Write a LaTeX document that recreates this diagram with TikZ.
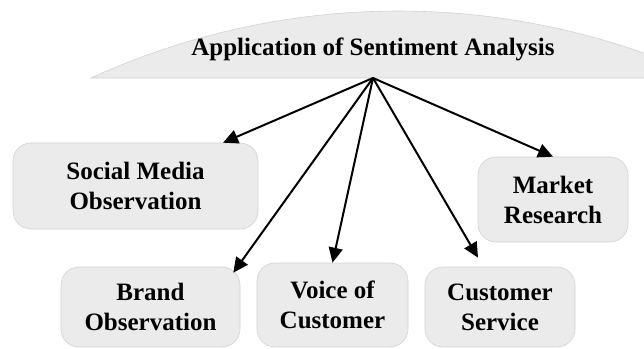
\documentclass[tikz,border=0pt]{standalone}
\usepackage{fontspec}
\setmainfont{Liberation Serif}
\usetikzlibrary{arrows.meta}
\definecolor{boxfill}{HTML}{EBEBEB}
\definecolor{boxline}{HTML}{D2D2D2}
\begin{document}
\begin{tikzpicture}[x=1pt,y=1pt,
  labelfont/.style={font=\fontsize{25}{30}\selectfont\bfseries},
  appbox/.style={draw=boxline, fill=boxfill, line width=0.6pt, rounded corners=18pt,
    inner sep=0pt, align=center, labelfont},
  dome/.style={draw=boxline, fill=boxfill, line width=0.6pt},
  conn/.style={draw=black, line width=2pt, -{Triangle[length=15pt,width=14pt]}}
]
\useasboundingbox (0,0) rectangle (644,348);
\begin{scope}
  \clip (0,0) rectangle (644,348);
  \path[dome] (91,270) arc[start angle=114.6, end angle=65.4, radius=738] -- cycle;
\end{scope}
\node[labelfont, anchor=base] (title) at (373,292) {Application of Sentiment Analysis};
\coordinate (apex) at (373,270);

\node[appbox, minimum width=245pt, minimum height=86pt] (social) at (135.5,162) {Social Media\\Observation};
\node[appbox, minimum width=150pt, minimum height=85pt] (market) at (553,148.5) {Market\\Research};
\node[appbox, minimum width=179pt, minimum height=80pt] (brand) at (150.5,41) {Brand\\Observation};
\node[appbox, minimum width=151pt, minimum height=84pt] (voice) at (332.5,43) {Voice of\\Customer};
\node[appbox, minimum width=150pt, minimum height=80pt] (service) at (500,41) {Customer\\Service};

\draw[conn] (apex) -- ([xshift=87.5pt]social.north);
\draw[conn] (apex) -- (market.north);
\draw[conn] (apex) -- ([xshift=-7pt,yshift=-6pt]brand.north east);
\draw[conn] (apex) -- (voice.north);
\draw[conn] (apex) -- ([xshift=-22pt,yshift=9pt]service.north);
\end{tikzpicture}
\end{document}
